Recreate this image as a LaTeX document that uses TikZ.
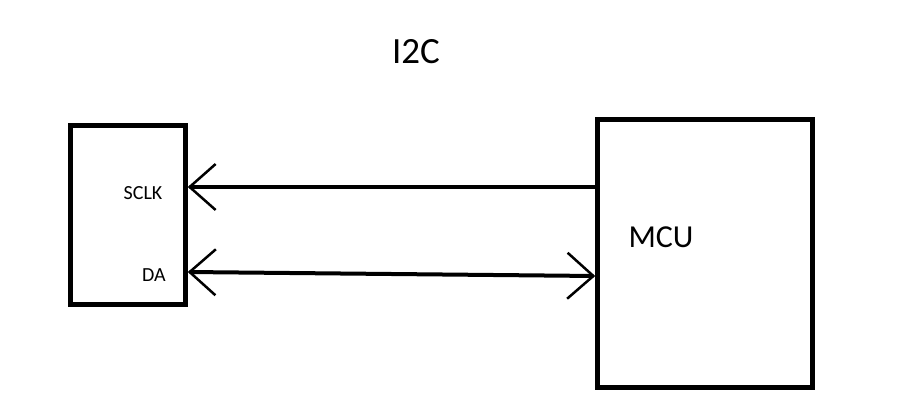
\documentclass[tikz,border=0pt]{standalone}
\usepackage{fontspec}
\setmainfont{Carlito}
\usetikzlibrary{arrows.meta}

\begin{document}
\begin{tikzpicture}[x=1pt, y=-1pt,
    chip/.style={draw, rectangle, line width=4.5pt, inner sep=0pt},
    pin/.style={font=\fontsize{20}{20}\selectfont, inner sep=0pt},
    bus/.style={line width=4pt, line cap=round},
    >={Straight Barb[length=26pt, width=46pt, line width=2.5pt]}]
    \useasboundingbox (0,0) rectangle (910,414);
    \node[chip, minimum width=115pt, minimum height=179pt] (sensor) at (128,215)   {};
    \node[chip, minimum width=215pt, minimum height=268pt] (mcu)    at (705,253.5) {};
    \node[font=\fontsize{37}{37}\selectfont] (title)    at (416,52)  {I2C};
    \node[font=\fontsize{32}{32}\selectfont] (mculabel) at (661,237) {MCU};
    \node[pin] (sclk) at (143,193) {SCLK};
    \node[pin] (da)   at (154,275) {DA};
    \draw[bus, ->]  (mcu.west |- 0,187) -- (sensor.east |- 0,187);
    \draw[bus, <->] (sensor.east |- 0,272) -- (mcu.west |- 0,276);
\end{tikzpicture}
\end{document}
